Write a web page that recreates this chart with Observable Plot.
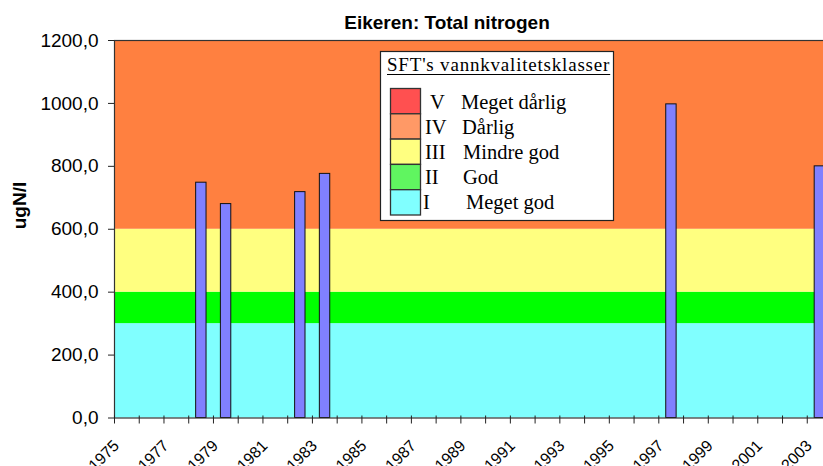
<!DOCTYPE html>
<html><head><meta charset="utf-8">
<script src="https://cdn.jsdelivr.net/npm/d3@7"></script>
<script src="https://cdn.jsdelivr.net/npm/@observablehq/plot@0.6"></script>
<style>
body{margin:0;background:#fff;}
#wrap{position:relative;width:823px;height:466px;overflow:hidden;background:#fff;}
#title{position:absolute;left:0;top:13px;width:894px;text-align:center;font:700 19px/19px "Liberation Sans",Arial,sans-serif;color:#000;}
#chart{position:absolute;left:0;top:30px;}
#legend{position:absolute;left:0;top:0;pointer-events:none;}
</style></head><body>
<div id="wrap"><div id="title">Eikeren: Total nitrogen</div><div id="chart"></div></div>
<script>
// ---- data ----
const years = [1978, 1979, 1982, 1983, 1997, 2003];
const values = [748, 680, 718, 776, 997, 800];
const yTicks = [0, 200, 400, 600, 800, 1000, 1200];
const xLabelYears = [1975, 1977, 1979, 1981, 1983, 1985, 1987, 1989, 1991, 1993, 1995, 1997, 1999, 2001, 2003];
const bandFrom = [0, 300, 400, 600];
const bandTo = [300, 400, 600, 1200];
const legendTitle = "SFT's vannkvalitetsklasser";
const classNumerals = ["V", "IV", "III", "II", "I"];
const classNames = ["Meget dårlig", "Dårlig", "Mindre god", "God", "Meget god"];
const yLabel = "ugN/l";

// ---- styles ----
const bandFill = ["#80FFFF", "#00FF00", "#FFFF80", "#FF8040"];
const legendFill = ["#FF5050", "#FF9966", "#FFFF80", "#60F560", "#80FFFF"];

const xStart = 1975, xEnd = 2004;
const tickYears = d3.range(xStart, xEnd + 1);
const bands = bandFrom.map((y1, i) => ({y1, y2: bandTo[i], k: i}));
const data = years.map((year, i) => ({year, value: values[i]}));

const chart = Plot.plot({
  width: 823, height: 436,
  marginTop: 10, marginBottom: 48.5, marginLeft: 114, marginRight: -8.5,
  style: {background: "transparent", color: "#000", fontFamily: "'Liberation Sans', Arial, sans-serif", overflow: "hidden"},
  x: {type: "linear", domain: [xStart, xEnd]},
  y: {domain: [0, 1200]},
  color: {type: "identity"},
  marks: [
    Plot.rect(bands, {x1: () => xStart, x2: () => xEnd, y1: "y1", y2: "y2", fill: d => bandFill[d.k]}),
    Plot.rectY(data, {x1: d => d.year + 0.3, x2: d => d.year + 0.72, y1: () => 0, y2: "value", fill: "#8080FF", stroke: "#111", strokeWidth: 1}),
    Plot.frame({stroke: "#333", strokeWidth: 1.2}),
    Plot.axisY({ticks: yTicks, tickSize: 6, tickPadding: 10, tickFormat: d => d.toFixed(1).replace(".", ","), fontSize: 19, label: null, stroke: "#222"}),
    Plot.axisX({ticks: tickYears, tickSize: 8, dy: -2, tickFormat: () => "", label: null, stroke: "#222"}),
    Plot.axisX({ticks: xLabelYears, tickSize: 0, tickPadding: 25, tickRotate: -45, tickFormat: d => String(d), fontSize: 16, label: null, dx: 2}),
    Plot.text([yLabel], {text: d => d, frameAnchor: "left", dx: -95, rotate: -90, fontSize: 19, fontWeight: "bold", fill: "#000"})
  ]
});
document.getElementById("chart").appendChild(chart);

// ---- legend overlay ----
const svg = d3.select("#wrap").append("svg").attr("id", "legend").attr("width", 823).attr("height", 466);
svg.append("rect").attr("x", 380.5).attr("y", 51.5).attr("width", 233).attr("height", 169)
  .attr("fill", "#fff").attr("stroke", "#222").attr("stroke-width", 1.2);
const tt = svg.append("text").attr("x", 387).attr("y", 70.5)
  .attr("font-family", "'Liberation Serif', 'Times New Roman', serif").attr("font-size", 19)
  .attr("letter-spacing", 0.8).attr("fill", "#000").text(legendTitle);
const tw = tt.node().getComputedTextLength();
svg.append("line").attr("x1", 387).attr("x2", 387 + tw).attr("y1", 74.5).attr("y2", 74.5).attr("stroke", "#000").attr("stroke-width", 1);
const rowH = 25.3, rowTop = 88.5;
const numX = [430, 425, 425, 425, 423];
const nameX = [461, 462, 463, 463, 466];
classNumerals.forEach((n, i) => {
  svg.append("rect").attr("x", 390.5).attr("y", rowTop + i * rowH).attr("width", 30).attr("height", rowH)
    .attr("fill", legendFill[i]).attr("stroke", "#333").attr("stroke-width", 1.3);
  const base = 109 + i * 25;
  svg.append("text").attr("x", numX[i]).attr("y", base).attr("font-family", "'Liberation Serif', 'Times New Roman', serif")
    .attr("font-size", 20.5).attr("fill", "#000").text(n);
  svg.append("text").attr("x", nameX[i]).attr("y", base).attr("font-family", "'Liberation Serif', 'Times New Roman', serif")
    .attr("font-size", 20.5).attr("fill", "#000").text(classNames[i]);
});
</script>
</body></html>
